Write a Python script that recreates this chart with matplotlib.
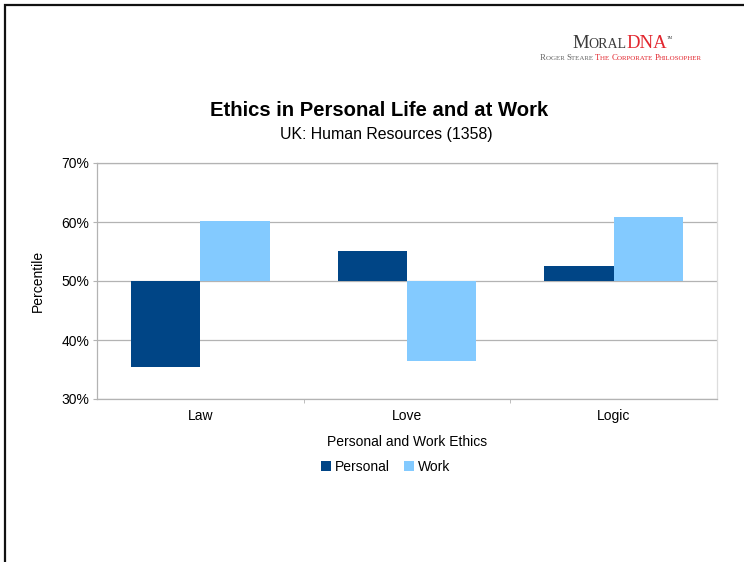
import matplotlib.pyplot as plt
from matplotlib.patches import Rectangle

plt.rcParams['font.family'] = ['Liberation Sans', 'DejaVu Sans']

categories = ["Law", "Love", "Logic"]
personal = [35.5, 55.1, 52.5]
work = [60.2, 36.5, 60.8]
baseline = 50
y_ticks = [30, 40, 50, 60, 70]

c_personal = "#004586"
c_work = "#83caff"
grid_c = "#b3b3b3"

fig = plt.figure(figsize=(7.44, 5.62), dpi=100)

# outer frame (page border cut off at right/bottom)
fig.patches.append(Rectangle((5 / 744, -0.05), 1.2, 1 - 5 / 562 + 0.05,
                             transform=fig.transFigure, fill=False,
                             edgecolor="#111111", linewidth=1.6))

ax = fig.add_axes([97 / 744, 1 - 399 / 562, 620 / 744, 236 / 562])

x = range(len(categories))
w = 0.336
ax.bar([i - w / 2 for i in x], [v - baseline for v in personal], w,
       bottom=baseline, color=c_personal, label="Personal", zorder=3)
ax.bar([i + w / 2 for i in x], [v - baseline for v in work], w,
       bottom=baseline, color=c_work, label="Work", zorder=3)

ax.set_xlim(-0.5, 2.5)
ax.set_ylim(30, 70)
ax.set_yticks(y_ticks)
ax.set_yticklabels([f"{t}%" for t in y_ticks])
ax.set_xticks(list(x))
ax.set_xticklabels(categories)
ax.set_xticks([0.5, 1.5], minor=True)
ax.tick_params(axis="x", which="major", length=0, pad=7, labelsize=10)
ax.tick_params(axis="x", which="minor", length=3, color=grid_c)
ax.tick_params(axis="y", length=3, color=grid_c, pad=2.5, labelsize=10)
ax.yaxis.grid(True, color=grid_c, linewidth=0.9, zorder=0)
for s in ax.spines.values():
    s.set_color(grid_c)
    s.set_linewidth(0.9)
ax.spines["right"].set_color("#dddddd")

ax.set_ylabel("Percentile", fontsize=10, labelpad=12)
ax.set_xlabel("Personal and Work Ethics", fontsize=10, labelpad=9)

fig.text(379 / 744, 1 - 111 / 562, "Ethics in Personal Life and at Work",
         ha="center", va="center", fontsize=14.6, fontweight="bold")
fig.text(386 / 744, 1 - 134 / 562, "UK: Human Resources (1358)",
         ha="center", va="center", fontsize=11.4)

fig.legend(loc="center", bbox_to_anchor=(386 / 744, 1 - 467 / 562), ncol=2,
           frameon=False, fontsize=10, handlelength=0.7, handleheight=0.7,
           handletextpad=0.3, columnspacing=1.0)


# small-caps logo, drawn piece by piece
def small_caps(pieces, x0, y0):
    r = fig.canvas.get_renderer()
    xx = x0
    for txt, size, color in pieces:
        t = fig.text(xx, y0, txt, fontsize=size, color=color,
                     family="Liberation Serif", ha="left", va="baseline")
        bb = t.get_window_extent(renderer=r)
        xx += bb.width / fig.bbox.width
    return xx


grey = "#3a3a3a"
red = "#e2262e"
end = small_caps([("M", 13.5, grey), ("ORAL", 10, grey), ("DNA", 13.5, red)],
                 572 / 744, 1 - 48 / 562)
fig.text(end, 1 - 39 / 562, "TM", fontsize=3, color=grey,
         family="Liberation Serif")
small_caps([("R", 6.3, "#666666"), ("OGER ", 5, "#666666"),
            ("S", 6.3, "#666666"), ("TEARE ", 5, "#666666"),
            ("T", 6.3, red), ("HE ", 5, red), ("C", 6.3, red),
            ("ORPORATE ", 5, red), ("P", 6.3, red), ("HILOSOPHER", 5, red)],
           540 / 744, 1 - 60 / 562)

fig.savefig("out.png", dpi=100)
